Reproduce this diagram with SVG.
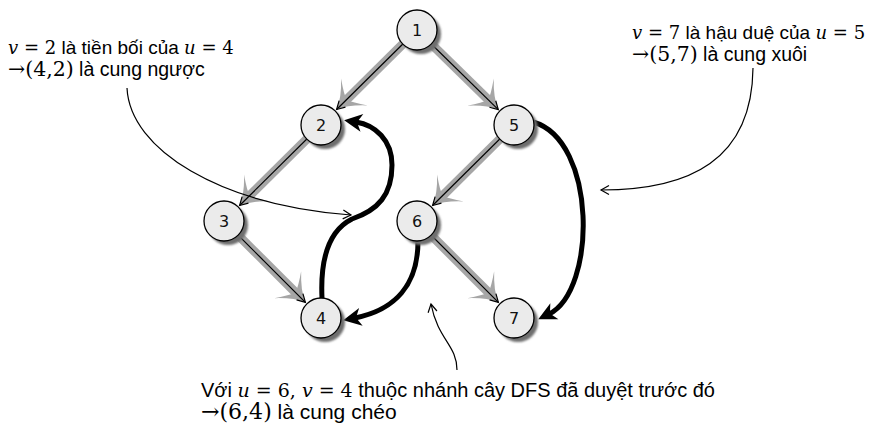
<svg xmlns="http://www.w3.org/2000/svg" width="874" height="427" viewBox="0 0 874 427">
<style>
  .shaft{stroke:#a6a6a6;stroke-width:9;fill:none;marker-end:url(#gh)}
  .tl{stroke:#000;stroke-width:1.2;fill:none;marker-end:url(#ta)}
  .thick{stroke:#000;stroke-width:5;fill:none;marker-end:url(#bh)}
  .node circle.b{fill:#ebebeb;stroke:#000;stroke-width:1.3}
  .node circle.s{fill:#6e6e6e;filter:url(#blur)}
  .node text{font-family:"DejaVu Sans",sans-serif;font-size:16px;text-anchor:middle;fill:#111}
  .lbl{font-family:"Liberation Sans",Arial,sans-serif;fill:#000}
  .m{font-family:"DejaVu Serif","Liberation Serif",serif;font-size:0.95em}
  .ma{font-family:"DejaVu Serif","Liberation Serif",serif;font-size:1.05em}
  .i{font-style:italic}
</style>
<defs>
  <filter id="blur" x="-30%" y="-30%" width="160%" height="160%"><feGaussianBlur stdDeviation="1.2"/></filter>
  <marker id="gh" markerUnits="userSpaceOnUse" orient="auto" overflow="visible" markerWidth="1" markerHeight="1" refX="0" refY="0">
    <path d="M14,0 Q2,-5 -11,-19 Q-2,-6 0,0 Q-2,6 -11,19 Q2,5 14,0Z" fill="#a6a6a6"/>
  </marker>
  <marker id="ta" markerUnits="userSpaceOnUse" orient="auto" overflow="visible" markerWidth="1" markerHeight="1" refX="0" refY="0">
    <path d="M-8,-4.5 L0,0 L-8,4.5" fill="none" stroke="#000" stroke-width="1.2"/>
  </marker>
  <marker id="bh" markerUnits="userSpaceOnUse" orient="auto" overflow="visible" markerWidth="1" markerHeight="1" refX="0" refY="0">
    <path d="M12,0 L-6,-9 L-1,0 L-6,9Z" fill="#000"/>
  </marker>
</defs>

<g id="connectors">
  <g id="tree-edges">
    <line class="shaft" x1="417" y1="30" x2="346.6" y2="99.7"/>
    <line class="tl" x1="417" y1="30" x2="336.6" y2="109.5"/>
    <line class="shaft" x1="417" y1="30" x2="488.3" y2="99.8"/>
    <line class="tl" x1="417" y1="30" x2="498.3" y2="109.6"/>
    <line class="shaft" x1="321" y1="125" x2="249.6" y2="195.7"/>
    <line class="tl" x1="321" y1="125" x2="239.6" y2="205.5"/>
    <line class="shaft" x1="224" y1="221" x2="295.5" y2="292.5"/>
    <line class="tl" x1="224" y1="221" x2="305.4" y2="302.4"/>
    <line class="shaft" x1="514" y1="125" x2="442.6" y2="195.7"/>
    <line class="tl" x1="514" y1="125" x2="432.6" y2="205.5"/>
    <line class="shaft" x1="417" y1="221" x2="488.5" y2="292.5"/>
    <line class="tl" x1="417" y1="221" x2="498.4" y2="302.4"/>
  </g>
  <g id="non-tree-edges">
    <path class="thick" d="M322,298 C320,255 330,230 352,219 C378,210 392,195 392,165 C392,140 375,125 356,122"/>
    <path class="thick" d="M418,241 C418,285 395,310 355,318"/>
    <path class="thick" d="M533,122 C597,140 597,290 549,314"/>
  </g>
  <g id="callouts">
    <path class="tl" d="M127,88 C130,150 220,205 351,215"/>
    <path class="tl" d="M753,68 C752,160 690,190 601,190"/>
    <path class="tl" d="M457,370 C457,345 438,340 431,304"/>
  </g>
</g>

<g id="node1" class="node"><circle class="s" cx="421" cy="34" r="20"/><circle class="b" cx="417" cy="30" r="20"/><text x="417" y="36">1</text></g>
<g id="node2" class="node"><circle class="s" cx="325" cy="129" r="20"/><circle class="b" cx="321" cy="125" r="20"/><text x="321" y="131">2</text></g>
<g id="node5" class="node"><circle class="s" cx="518" cy="129" r="20"/><circle class="b" cx="514" cy="125" r="20"/><text x="514" y="131">5</text></g>
<g id="node3" class="node"><circle class="s" cx="228" cy="225" r="20"/><circle class="b" cx="224" cy="221" r="20"/><text x="224" y="227">3</text></g>
<g id="node6" class="node"><circle class="s" cx="421" cy="225" r="20"/><circle class="b" cx="417" cy="221" r="20"/><text x="417" y="227">6</text></g>
<g id="node4" class="node"><circle class="s" cx="325" cy="322" r="20"/><circle class="b" cx="321" cy="318" r="20"/><text x="321" y="324">4</text></g>
<g id="node7" class="node"><circle class="s" cx="518" cy="322" r="20"/><circle class="b" cx="514" cy="318" r="20"/><text x="514" y="324">7</text></g>

<g id="label-back" class="lbl">
  <text x="8" y="54" font-size="19"><tspan class="m i">v</tspan><tspan class="m"> = 2</tspan> là tiền bối của <tspan class="m i">u</tspan><tspan class="m"> = 4</tspan></text>
  <text x="8" y="76" font-size="19.5"><tspan class="ma">→(4,2)</tspan> là cung ngược</text>
</g>
<g id="label-forward" class="lbl">
  <text x="632" y="39" font-size="19"><tspan class="m i">v</tspan><tspan class="m"> = 7</tspan> là hậu duệ của <tspan class="m i">u</tspan><tspan class="m"> = 5</tspan></text>
  <text x="632" y="61" font-size="19.5"><tspan class="ma">→(5,7)</tspan> là cung xuôi</text>
</g>
<g id="label-cross" class="lbl">
  <text x="201" y="397" font-size="20">Với <tspan class="m i">u</tspan><tspan class="m"> = 6, </tspan><tspan class="m i">v</tspan><tspan class="m"> = 4</tspan> thuộc nhánh cây DFS đã duyệt trước đó</text>
  <text x="201" y="419" font-size="21"><tspan class="ma">→(6,4)</tspan> là cung chéo</text>
</g>
</svg>
